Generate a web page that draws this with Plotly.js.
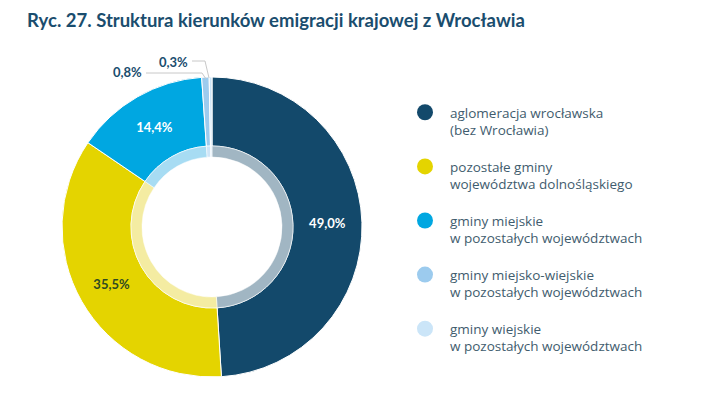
<!DOCTYPE html>
<html>
<head>
<meta charset="utf-8">
<script src="https://cdn.plot.ly/plotly-3.0.1.min.js"></script>
<style>html,body{margin:0;padding:0;background:#fff;}#chart{width:722px;height:396px;}</style>
</head>
<body>
<div id="chart"></div>
<script>
const categories = [
  "aglomeracja wrocławska<br>(bez Wrocławia)",
  "pozostałe gminy<br>województwa dolnośląskiego",
  "gminy miejskie<br>w pozostałych województwach",
  "gminy miejsko-wiejskie<br>w pozostałych województwach",
  "gminy wiejskie<br>w pozostałych województwach"
];
const shares = [49.0, 35.5, 14.4, 0.8, 0.3];
const valueLabels = ["49,0%", "35,5%", "14,4%", "", ""];
const outsideLabels = ["0,8%", "0,3%"];

const outerColors = ["#13496b", "#e4d400", "#00a7e1", "#9ccbee", "#cbe5f8"];
const innerColors = ["#a1b6c3", "#f4eca2", "#a7dcf3", "#cfe5f7", "#e6f2fb"];
const labelColors = ["#ffffff", "#2f4a22", "#ffffff", "#ffffff", "#ffffff"];

const W = 722, H = 396;
const cx = 212, cy = 227, rOuter = 150, rMid = 81, rInner = 70;
function dom(r){
  return {x:[(cx-r)/W,(cx+r)/W], y:[(H-cy-r)/H,(H-cy+r)/H]};
}

const traces = [
  {
    type:'pie', values: shares, labels: categories, sort:false, direction:'clockwise', rotation:0,
    hole: rMid/rOuter, domain: dom(rOuter),
    marker:{colors: outerColors, line:{color:'#ffffff', width:1}},
    text: valueLabels, textinfo:'text', textposition:'inside', insidetextorientation:'horizontal',
    textfont:{family:'Lato, "Open Sans", sans-serif', size:13, color: labelColors, weight:'bold'},
    showlegend:false, hoverinfo:'label+percent'
  },
  {
    type:'pie', values: shares, labels: categories, sort:false, direction:'clockwise', rotation:0,
    hole: rInner/rMid, domain: dom(rMid),
    marker:{colors: innerColors, line:{color:'#ffffff', width:0.5}},
    textinfo:'none', showlegend:false, hoverinfo:'skip'
  }
];
categories.forEach((c,i)=>{
  traces.push({
    type:'scatter', mode:'markers', x:[null], y:[null], name:c,
    legendgroup:'g'+i, marker:{color: outerColors[i], size:16, symbol:'circle'},
    xaxis:'x', yaxis:'y', hoverinfo:'skip'
  });
});

const lblFont = {family:'Lato, "Open Sans", sans-serif', size:13, color:'#1a4d6e', weight:'bold'};
function P(x,y){return (x/W)+','+(1-y/H);}

const layout = {
  width: W, height: H,
  margin:{l:0,r:0,t:0,b:0},
  paper_bgcolor:'#ffffff', plot_bgcolor:'rgba(0,0,0,0)',
  separators: ',.',
  title:{text:'Ryc. 27. Struktura kierunków emigracji krajowej z Wrocławia',
    x:27/W, xanchor:'left', y:1-21/H, yanchor:'middle',
    font:{family:'Lato, "Open Sans", sans-serif', size:18.5, color:'#1a4d6e', weight:'bold'}},
  xaxis:{visible:false, domain:[0.6,0.61]},
  yaxis:{visible:false, domain:[0.5,0.51]},
  showlegend:true,
  legend:{x:400/W, y:1-97/H, xanchor:'left', yanchor:'top', traceorder:'grouped', tracegroupgap:16,
    valign:'top', itemwidth:40,
    font:{family:'"Open Sans", Lato, sans-serif', size:13.5, color:'#3f5c6e'}, bgcolor:'rgba(0,0,0,0)'},
  annotations:[
    {text: outsideLabels[0], xref:'paper', yref:'paper', x:127/W, y:1-72/H, xanchor:'center', yanchor:'middle', showarrow:false, font: lblFont},
    {text: outsideLabels[1], xref:'paper', yref:'paper', x:173/W, y:1-62/H, xanchor:'center', yanchor:'middle', showarrow:false, font: lblFont}
  ],
  shapes:[
    {type:'path', xref:'paper', yref:'paper',
     path:'M'+P(146,73)+' L'+P(202,73)+' L'+P(206,79), line:{color:'#c8c8c8', width:1}},
    {type:'path', xref:'paper', yref:'paper',
     path:'M'+P(192,61)+' L'+P(205,61)+' L'+P(209,78), line:{color:'#c8c8c8', width:1}}
  ]
};
Plotly.newPlot('chart', traces, layout, {displayModeBar:false, staticPlot:true});
</script>
</body>
</html>
